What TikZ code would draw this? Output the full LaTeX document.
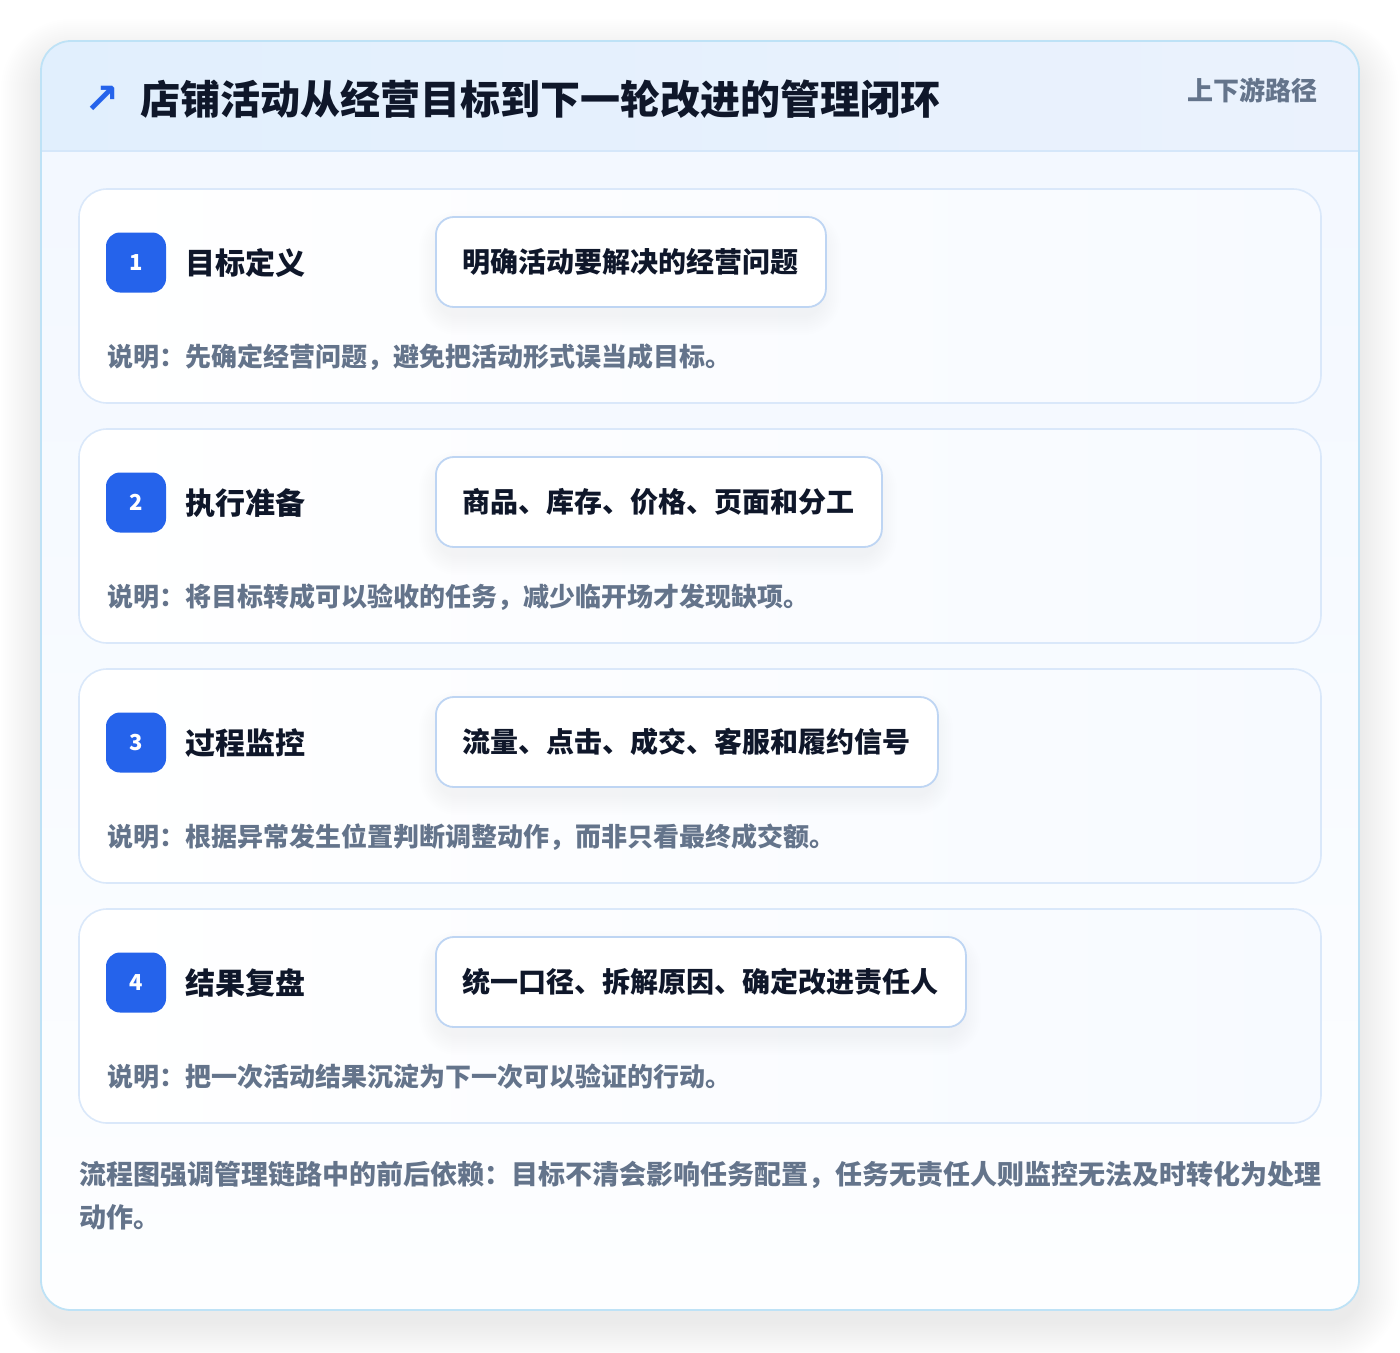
\documentclass[tikz,border=0pt]{standalone}
\usepackage{fontspec}
\setmainfont{Noto Sans CJK SC}
\newfontfamily\symfont{DejaVu Sans}
\definecolor{outerborder}{HTML}{BEE2F6}
\definecolor{headleft}{HTML}{E1EFFD}
\definecolor{headright}{HTML}{EBF2FD}
\definecolor{headline}{HTML}{D5E7FA}
\definecolor{bodytop}{HTML}{F3F8FF}
\definecolor{bodybot}{HTML}{FDFEFF}
\definecolor{cardborder}{HTML}{DAE8FA}
\definecolor{cardright}{HTML}{F7FAFF}
\definecolor{badgeblue}{HTML}{2563EB}
\definecolor{darktext}{HTML}{0F172A}
\definecolor{graytext}{HTML}{64748B}
\definecolor{pillborder}{HTML}{BED5F3}
\definecolor{shadowcol}{HTML}{1E293B}
\tikzset{
  cardbox/.style={draw=cardborder, line width=1.6pt, rounded corners=28pt,
    left color=white, right color=cardright, minimum width=1242pt, minimum height=214pt, inner sep=0pt},
  badgebox/.style={fill=badgeblue, rounded corners=14pt, minimum size=60pt, inner sep=0pt,
    text=white, font=\fontsize{22}{22}\selectfont\bfseries},
  steptitle/.style={anchor=west, inner sep=0pt, text=darktext, font=\fontsize{30}{30}\selectfont\bfseries},
  pillbox/.style={anchor=west, draw=pillborder, line width=1.8pt, fill=white, rounded corners=18pt,
    inner xsep=27pt, inner ysep=0pt, minimum height=90pt, text=darktext,
    font=\fontsize{28}{28}\selectfont\bfseries},
  desctext/.style={anchor=west, inner sep=0pt, text=graytext, font=\fontsize{26}{26}\selectfont\bfseries},
  foottext/.style={anchor=west, inner sep=0pt, text=graytext, font=\fontsize{27}{27}\selectfont\bfseries},
  softlayer/.style={fill=shadowcol, fill opacity=#1}
}
\begin{document}
\begin{tikzpicture}[x=1pt,y=-1pt]
\useasboundingbox (0,0) rectangle (1400,1352);
\fill[white] (0,0) rectangle (1400,1352);
% outer card soft shadow
\foreach \k in {2,4,...,40}{
  \fill[softlayer=0.0045, rounded corners=30pt+\k pt]
    (41-\k,41-\k+18) rectangle (1359+\k,1310+\k+12);
}
\fill[white, rounded corners=30pt] (41,41) rectangle (1359,1310);
\begin{scope}
  \clip[rounded corners=30pt] (41,41) rectangle (1359,1310);
  \shade[top color=bodytop, bottom color=bodybot] (41,151) rectangle (1359,1310);
  \shade[left color=headleft, right color=headright] (41,41) rectangle (1359,151);
  \draw[headline, line width=1.5pt] (41,151) -- (1359,151);
\end{scope}
\draw[outerborder, line width=1.8pt, rounded corners=30pt] (41,41) rectangle (1359,1310);
% header
\node[inner sep=0pt, text=badgeblue, font=\symfont\bfseries\fontsize{42}{42}\selectfont] (icon) at (102,100) {↗};
\node[anchor=west, inner sep=0pt, text=darktext, font=\fontsize{40}{40}\selectfont\bfseries] (title) at (140,99) {店铺活动从经营目标到下一轮改进的管理闭环};
\node[anchor=east, inner sep=0pt, text=graytext, font=\fontsize{26}{26}\selectfont\bfseries] (tag) at (1318,90) {上下游路径};
% step cards
\foreach \n/\t/\c/\ti/\pl/\de in {
  1/189/12/目标定义/明确活动要解决的经营问题/说明：先确定经营问题，避免把活动形式误当成目标。,
  2/429/14/执行准备/商品、库存、价格、页面和分工/说明：将目标转成可以验收的任务，减少临开场才发现缺项。,
  3/669/16/过程监控/流量、点击、成交、客服和履约信号/说明：根据异常发生位置判断调整动作，而非只看最终成交额。,
  4/909/17/结果复盘/统一口径、拆解原因、确定改进责任人/说明：把一次活动结果沉淀为下一次可以验证的行动。}{
  \node[cardbox] (card\n) at (700,\t+107) {};
  \pgfmathsetmacro\pr{435+\c*28+54}
  \foreach \k in {2,4,...,20}{
    \fill[softlayer=0.0055, rounded corners=18pt+\k pt]
      (435-\k+4,\t+28-\k+14) rectangle (\pr+\k-4,\t+118+\k+8);
  }
  \node[badgebox] (badge\n) at (136,\t+73.5) {\n};
  \node[steptitle] (steptitle\n) at (185,\t+74) {\ti};
  \node[pillbox] (pill\n) at (435,\t+73) {\pl};
  \node[desctext] (desc\n) at (107,\t+168) {\de};
}
% footer
\node[foottext] (foot1) at (79,1175) {流程图强调管理链路中的前后依赖：目标不清会影响任务配置，任务无责任人则监控无法及时转化为处理};
\node[foottext] (foot2) at (79,1217) {动作。};
\end{tikzpicture}
\end{document}
